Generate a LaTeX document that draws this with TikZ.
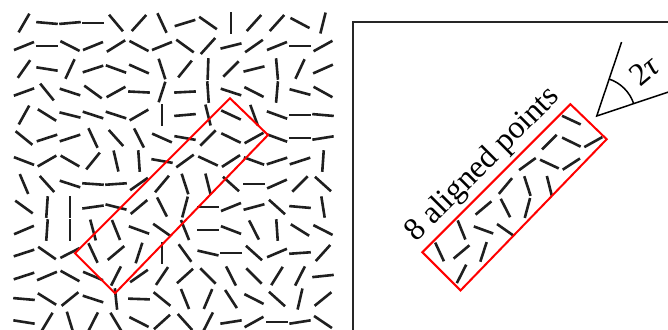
\documentclass[tikz,border=0pt]{standalone}
\usepackage{fontspec}
\setmainfont{Liberation Serif}
\usetikzlibrary{positioning}

\tikzset{
  stick/.style={line width=1.3pt,black!88},
  region/.style={line width=1pt,red},
  frame/.style={line width=0.8pt,black!85},
  thin frame/.style={line width=0.75pt,black},
  big text/.style={font=\fontsize{16}{18}\selectfont},
}
% one small segment, centre (#1,#2), direction #3
\newcommand{\seg}[3]{\draw[stick] (#1,#2) ++(#3:-5.4pt) -- ++(#3:10.8pt);}
% the tilted rectangle
\newcommand{\regionbox}{\draw[region] (75,253.3) -- (115,293.3) -- (268,135) -- (230,98.3) -- cycle;}

\begin{document}
\begin{tikzpicture}[x=0.5pt,y=-0.5pt]
  \useasboundingbox (0,0) rectangle (668,329);
  \clip (0,0) rectangle (668,329);
  %% field of orientations
  \foreach \row [count=\r] in {
    {60,-5,5,0,-50,48,-65,17,-35,90,48,48,-28,76},
    {22,0,-27,22,32,-28,22,-36,48,14,35,22,0,29},
    {55,-9,65,18,-20,-24,-72,51,88,45,14,-85,65,24},
    {20,-51,-18,-36,29,-3,72,3,-86,-18,-27,85,-15,-29},
    {61,-32,-14,-18,-18,30,90,5,-76,-25,-70,-20,0,-5},
    {-39,18,18,-65,-48,-63,-24,-10,45,-26,29,-20,0,9},
    {-21,30,-30,51,-77,-86,-10,36,-25,33,-20,18,18,86},
    {-67,-48,-18,-4,4,35,50,-72,-76,-42,0,24,45,-42},
    {-36,86,90,8,-14,40,-63,75,0,22,15,-42,-5,-81},
    {23,86,90,-75,-68,-20,-35,-68,0,-21,-63,-86,-32,-27},
    {18,-35,27,-65,40,72,90,-54,-13,0,-42,23,4,48},
    {18,23,-29,-23,63,35,56,42,-45,-63,-45,58,63,6},
    {-5,-32,39,-18,-84,-2,-39,-68,67,-57,-27,-42,77,39},
    {-9,59,-73,63,-59,-27,42,-48,63,9,29,0,9,-34}}{
    \foreach \a [count=\c] in \row {
      \pgfmathsetmacro{\px}{24+23*(\c-1)}
      \pgfmathsetmacro{\py}{23+23*(\r-1)}
      \seg{\px}{\py}{\a}
      % copy the ones inside the rectangle
      \pgfmathtruncatemacro{\inside}{(\px+\py>=327)&&(\px+\py<=407)&&(\px-\py>=-178)&&(\px-\py<=132)}
      \ifnum\inside=1
        \begin{scope}[shift={(515,197)},scale=0.955,shift={(-172,-195.5)}]
          \seg{\px}{\py}{\a}
        \end{scope}
      \fi
    }
  }
  \regionbox
  %%
  \draw[frame] (353,22) rectangle (700,360);
  \begin{scope}[shift={(515,197)},scale=0.955,shift={(-172,-195.5)}]
    \regionbox
    \path (75,253.3) -- (230,98.3)
      node[midway,sloped,above,inner sep=2pt,big text] (lbl) {8 aligned points};
  \end{scope}
  %% angle 2tau
  \coordinate (apex) at (596.7,116);
  \draw[thin frame] (apex) ++(71.4:39pt) coordinate (tipA) -- (apex) -- ++(18.5:39pt) coordinate (tipB);
  \draw[thin frame] (apex) ++(18.5:19.5pt) arc[start angle=18.5,end angle=71.4,radius=19.5pt];
  \path (apex) ++(44:33pt) node[rotate=40,big text] (tau) {2\textit{τ}};
\end{tikzpicture}
\end{document}
